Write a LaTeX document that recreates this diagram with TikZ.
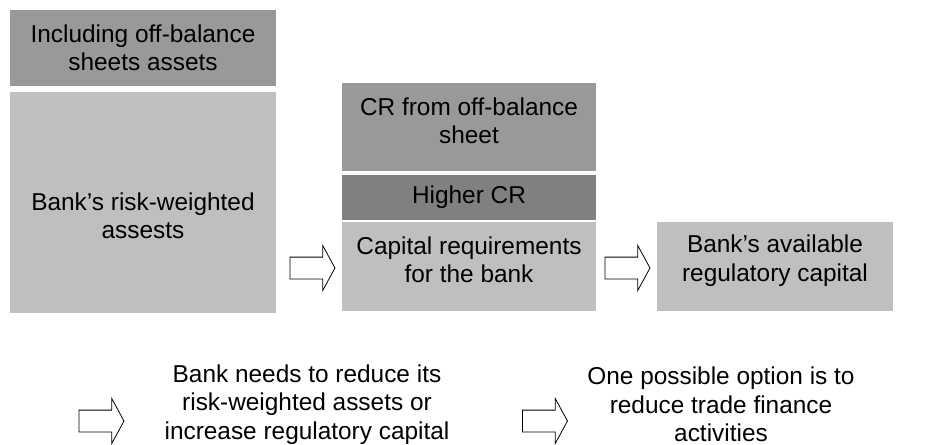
\documentclass[tikz,border=0pt]{standalone}
\usepackage{fontspec}
\setmainfont{Liberation Sans}
\usetikzlibrary{shapes.arrows}
\definecolor{boxdark}{HTML}{808080}
\definecolor{boxmid}{HTML}{999999}
\definecolor{boxlight}{HTML}{BFBFBF}
\tikzset{
	lbl/.style={align=center, inner sep=0pt, font=\fontsize{12.2}{14.2}\selectfont},
	blockarrow/.style={single arrow, draw=black, fill=white, line width=0.4pt,
		inner xsep=0pt, inner ysep=5.25pt, minimum height=22.5pt,
		single arrow head extend=5.75pt, single arrow tip angle=123, shape border rotate=0}
}
\begin{document}
\begin{tikzpicture}[x=0.5pt, y=-0.5pt]
		%%%%% START %%%%%
		\useasboundingbox (0, 0) rectangle (925, 444);
		
		% left column
		\fill[boxmid] (10, 10) rectangle (276, 86);
		\node[lbl] (offbal) at (143, 48) {Including off-balance\\sheets assets};
		\fill[boxlight] (10, 92) rectangle (276, 313);
		\node[lbl] (rwa) at (143, 216) {Bank’s risk-weighted\\assests};
		
		% middle column
		\fill[boxmid] (342, 83) rectangle (596, 171);
		\node[lbl] (crofb) at (469, 121) {CR from off-balance\\sheet};
		\fill[boxdark] (342, 175) rectangle (596, 220);
		\node[lbl] (highcr) at (469, 197.5) {Higher CR};
		\fill[boxlight] (342, 222) rectangle (596, 311);
		\node[lbl] (capreq) at (469, 260) {Capital requirements\\for the bank};
		
		% right column
		\fill[boxlight] (657, 222) rectangle (893, 311);
		\node[lbl] (regcap) at (775, 260.5) {Bank’s available\\regulatory capital};
		
		% block arrows
		\node[blockarrow] (arrA) at (309.5, 268) {};
		\node[blockarrow] (arrB) at (624.5, 268) {};
		\node[blockarrow] (arrC) at (98.5, 421) {};
		\node[blockarrow] (arrD) at (542, 421) {};
		
		% bottom row
		\node[lbl] (reduce) at (307, 404.5) {Bank needs to reduce its\\risk-weighted assets or\\increase regulatory capital};
		\node[lbl] (option) at (721, 404.5) {One possible option is to\\reduce trade finance\\activities};
		
		%%%%% END %%%%%
	\end{tikzpicture}
\end{document}
